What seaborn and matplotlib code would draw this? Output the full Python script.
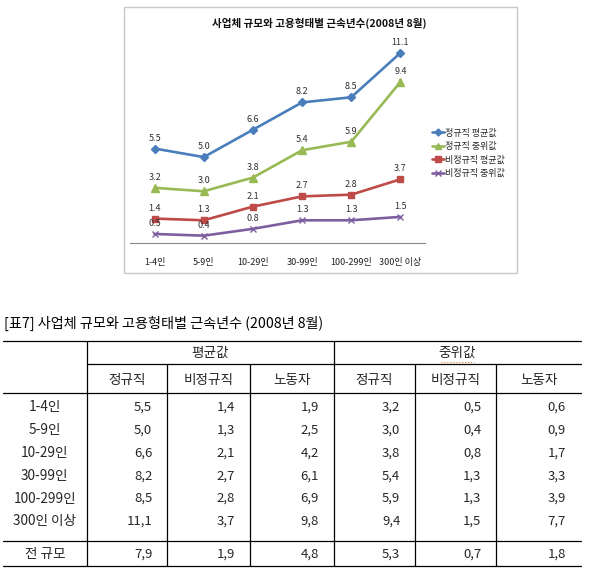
import numpy as np
import pandas as pd
import matplotlib
matplotlib.use("Agg")
import matplotlib.pyplot as plt
import seaborn as sns
from matplotlib.lines import Line2D
from matplotlib.patches import Rectangle

# ---------------- data ----------------
categories = ['1-4인', '5-9인', '10-29인', '30-99인', '100-299인', '300인 이상']
series_names = ['정규직 평균값', '정규직 중위값', '비정규직 평균값', '비정규직 중위값']
reg_mean = [5.5, 5.0, 6.6, 8.2, 8.5, 11.1]
reg_median = [3.2, 3.0, 3.8, 5.4, 5.9, 9.4]
irr_mean = [1.4, 1.3, 2.1, 2.7, 2.8, 3.7]
irr_median = [0.5, 0.4, 0.8, 1.3, 1.3, 1.5]
chart_title = '사업체 규모와 고용형태별 근속년수(2008년 8월)'

table_title = '[표7] 사업체 규모와 고용형태별 근속년수 (2008년 8월)'
group_headers = ['평균값', '중위값']
col_headers = ['정규직', '비정규직', '노동자', '정규직', '비정규직', '노동자']
row_labels = ['1-4인', '5-9인', '10-29인', '30-99인', '100-299인', '300인 이상', '전 규모']
mean_regular = [5.5, 5.0, 6.6, 8.2, 8.5, 11.1, 7.9]
mean_irregular = [1.4, 1.3, 2.1, 2.7, 2.8, 3.7, 1.9]
mean_worker = [1.9, 2.5, 4.2, 6.1, 6.9, 9.8, 4.8]
med_regular = [3.2, 3.0, 3.8, 5.4, 5.9, 9.4, 5.3]
med_irregular = [0.5, 0.4, 0.8, 1.3, 1.3, 1.5, 0.7]
med_worker = [0.6, 0.9, 1.7, 3.3, 3.9, 7.7, 1.8]

# ---------------- style ----------------
sns.set_style("white")
plt.rcParams['font.family'] = ['Noto Sans CJK KR', 'DejaVu Sans']
plt.rcParams['axes.unicode_minus'] = False

colors = ['#4A7EBB', '#98B954', '#BE4B48', '#7D5FA0']
markers = ['D', '^', 's', 'x']
msizes = [4.2, 5.5, 5.0, 4.5]

W, H = 593, 579
fig = plt.figure(figsize=(W / 100, H / 100), dpi=100)


def fx(x):
    return x / W


def fy(y):
    return 1 - y / H


# chart frame
fig.add_artist(Rectangle((fx(123.5), fy(273.3)), (517.3 - 123.5) / W, (273.3 - 7) / H,
                         transform=fig.transFigure, fill=False, edgecolor='#c8c8c8', lw=1))

ax = fig.add_axes([fx(130), fy(242.5), 295 / W, (242.5 - 37.5) / H])

series_vals = [reg_mean, reg_median, irr_mean, irr_median]
rows = []
for name, vals in zip(series_names, series_vals):
    for i, (c, v) in enumerate(zip(categories, vals)):
        rows.append({'pos': i, 'category': c, 'value': v, 'series': name})
df = pd.DataFrame(rows)

for name, c, m, ms in zip(series_names, colors, markers, msizes):
    sub = df[df['series'] == name]
    sns.lineplot(data=sub, x='pos', y='value', color=c, marker=m, markersize=ms,
                 markeredgecolor=c, markerfacecolor=c, markeredgewidth=1.0,
                 lw=1.9, legend=False, ax=ax, sort=False)

for name, vals in zip(series_names, series_vals):
    for i, v in enumerate(vals):
        ax.annotate(f'{v:.1f}', (i, v), xytext=(0, 7.5), textcoords='offset points',
                    ha='center', va='center', fontsize=6.5, color='#303030')

ax.set_xlim(-0.5, 5.5)
ax.set_ylim(0, 12)
ax.set_xticks(np.arange(-0.5, 6, 1))
ax.set_xticklabels([])
ax.set_xticks(np.arange(len(categories)), minor=True)
ax.set_xticklabels(categories, minor=True)
ax.tick_params(axis='x', which='major', length=4, width=0.8, color='#868686', direction='out')
ax.tick_params(axis='x', which='minor', length=0, pad=11, labelsize=6.5, labelcolor='#202020')
ax.set_yticks([])
ax.set_xlabel('')
ax.set_ylabel('')
for s in ['left', 'top', 'right']:
    ax.spines[s].set_visible(False)
ax.spines['bottom'].set_color('#868686')
ax.spines['bottom'].set_linewidth(0.8)

fig.text(fx(319), fy(23.3), chart_title, ha='center', va='center',
         fontsize=7.6, fontweight='bold', color='#101010')

handles = [Line2D([0], [0], color=c, marker=m, lw=1.9, ms=ms * 0.85, mec=c, mfc=c)
           for c, m, ms in zip(colors, markers, msizes)]
fig.legend(handles, series_names, loc='center left', bbox_to_anchor=(fx(432), fy(153.3)),
           frameon=False, fontsize=6.5, handlelength=1.35, handletextpad=0.1,
           labelspacing=0.5, borderpad=0, borderaxespad=0)

# ---------------- table ----------------
fs_k = 9.8
fs_n = 9.5
fig.text(fx(4), fy(323), table_title, ha='left', va='center', fontsize=10.2, color='black')

xl, xr = 3, 581
vlines = [86.7, 167.3, 250, 333.7, 415.3, 496.3]
y_top, y_sub, y_head, y_sep, y_bot = 340.7, 364.3, 392.7, 541.3, 565.7


def hline(y, x0, x1):
    fig.add_artist(Line2D([fx(x0), fx(x1)], [fy(y), fy(y)], transform=fig.transFigure,
                          color='black', lw=0.9))


def vline(x, y0, y1):
    fig.add_artist(Line2D([fx(x), fx(x)], [fy(y0), fy(y1)], transform=fig.transFigure,
                          color='black', lw=0.9))


hline(y_top, xl, xr)
hline(y_sub, vlines[0], xr)
hline(y_head, xl, xr)
hline(y_sep, xl, xr)
hline(y_bot, xl, xr)
vline(vlines[0], y_top, y_bot)
vline(vlines[3], y_top, y_bot)
for x in [vlines[1], vlines[2], vlines[4], vlines[5]]:
    vline(x, y_sub, y_bot)

fig.text(fx((vlines[0] + vlines[3]) / 2), fy(353.3), group_headers[0], ha='center',
         va='center', fontsize=fs_k)
fig.text(fx((vlines[3] + xr) / 2), fy(353.3), group_headers[1], ha='center',
         va='center', fontsize=fs_k)
fig.add_artist(Line2D([fx(441), fx(474)], [fy(362), fy(362)], transform=fig.transFigure,
                      color='#e08030', lw=0.8, ls=':'))

col_edges = vlines + [xr]
for j, h in enumerate(col_headers):
    fig.text(fx((col_edges[j] + col_edges[j + 1]) / 2), fy(380), h, ha='center',
             va='center', fontsize=fs_k)

row_ys = [407.3, 430, 452.8, 475.7, 498.5, 521.5, 554]
cols = [mean_regular, mean_irregular, mean_worker, med_regular, med_irregular, med_worker]
for i, lab in enumerate(row_labels):
    fig.text(fx((xl + vlines[0]) / 2), fy(row_ys[i]), lab, ha='center', va='center', fontsize=fs_k)
    for j, col in enumerate(cols):
        fig.text(fx(col_edges[j + 1] - 15), fy(row_ys[i]), f'{col[i]:.1f}'.replace('.', ','),
                 ha='right', va='center', fontsize=fs_n)

fig.savefig('out.png', dpi=100)
